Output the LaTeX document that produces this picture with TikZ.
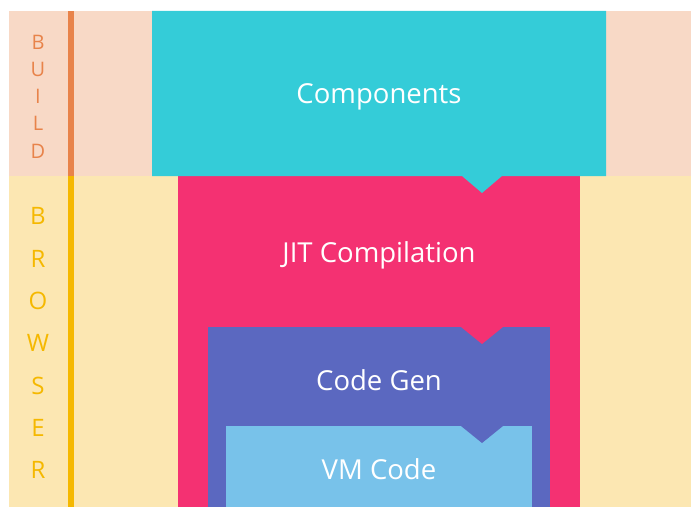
\documentclass[tikz,border=0pt]{standalone}
\usepackage{fontspec}
\setmainfont{Open Sans}
\usetikzlibrary{positioning}
\definecolor{buildbg}{HTML}{F8D9C6}
\definecolor{browserbg}{HTML}{FCE7B2}
\definecolor{buildline}{HTML}{E8834A}
\definecolor{browserline}{HTML}{F5B800}
\definecolor{compcol}{HTML}{34CCD8}
\definecolor{jitcol}{HTML}{F43172}
\definecolor{gencol}{HTML}{5B68C0}
\definecolor{vmcol}{HTML}{78C2EA}
\tikzset{
  label text/.style = {text=white, font=\fontsize{27.5}{32}\selectfont},
  side letter/.style = {font=\fontsize{20}{24}\selectfont}
}

\begin{document}
\begin{tikzpicture}[x=1pt, y=-1pt]

    \useasboundingbox (0,0) rectangle (700,524);

    % Stages
    \fill[buildbg] (9,11) rectangle (691,176);
    \fill[browserbg] (9,176) rectangle (691,507);
    \fill[buildline] (68,11) rectangle (74,176);
    \fill[browserline] (68,176) rectangle (74,507);

    % Side labels
    \foreach \l [count=\i] in {B,U,I,L,D}
        \node[side letter, text=buildline] (build\i) at (38,{15+27.2*\i}) {\l};
    \foreach \l [count=\i] in {B,R,O,W,S,E,R}
        \node[side letter, text=browserline, font=\fontsize{24}{28}\selectfont] (browser\i) at (38,{174+42.3*\i}) {\l};

    % Boxes
    \fill[jitcol] (178,176) rectangle (580,507);
    \fill[compcol] (152,11) -- (606,11) -- (606,176) -- (502,176) -- (482,193) -- (462,176) -- (152,176) -- cycle;
    \fill[gencol] (208,327) rectangle (550,507);
    \fill[jitcol] (461,327) -- (503,327) -- (482,344) -- cycle;
    \fill[vmcol] (226,426) rectangle (532,507);
    \fill[gencol] (461,426) -- (503,426) -- (482,443) -- cycle;

    % Labels
    \node[label text] (components) at (379,97) {Components};
    \node[label text] (jit) at (379,255) {JIT Compilation};
    \node[label text] (codegen) at (379,380) {Code Gen};
    \node[label text] (vmcode) at (379,469) {VM Code};

\end{tikzpicture}
\end{document}
